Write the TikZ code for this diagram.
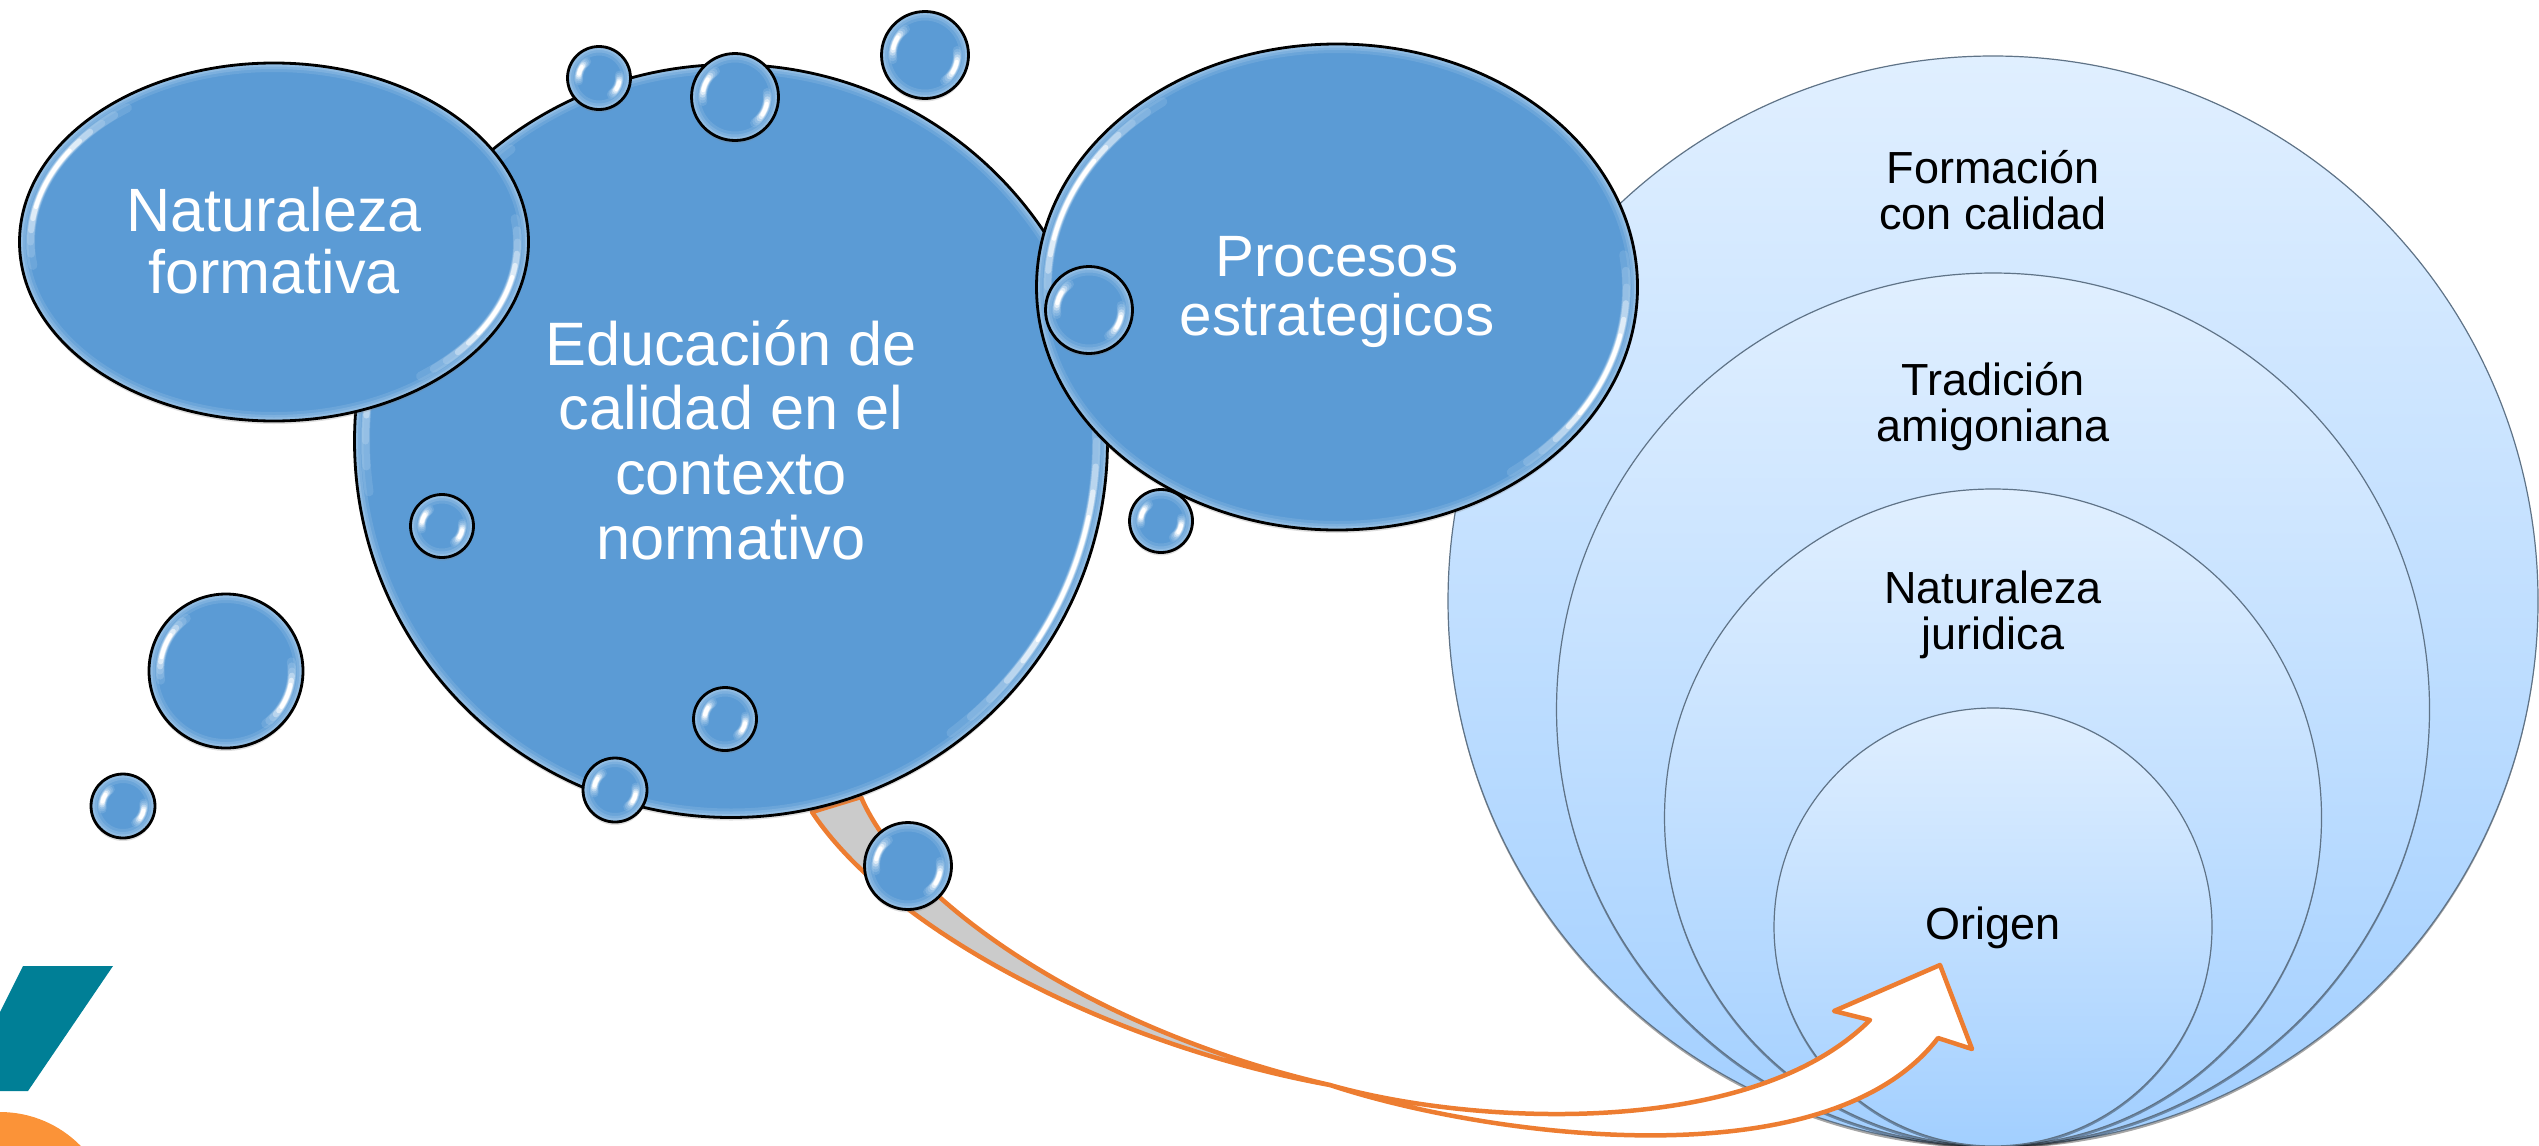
\documentclass[tikz,border=0pt]{standalone}
\usepackage{fontspec}
\setmainfont{Liberation Sans}
\usepackage{xcolor}
\usetikzlibrary{calc,shapes.geometric,positioning,shadows,fit}

\definecolor{blobblue}{HTML}{5B9BD5}
\definecolor{blobrim}{HTML}{B4D3EE}
\definecolor{ringtop}{HTML}{E0EFFF}
\definecolor{ringbot}{HTML}{A2CFFF}
\definecolor{ringline}{HTML}{5F7387}
\definecolor{arroworange}{HTML}{ED7D31}
\definecolor{arrowgray}{HTML}{CBCBCB}
\definecolor{logoteal}{HTML}{007F96}
\definecolor{logoorange}{HTML}{FB9338}

\tikzset{
    gloss/.style={path picture={
        \coordinate (ppc) at (path picture bounding box.center);
        \foreach \wd/\op in {1.8mm/.18,1.2mm/.25,.7mm/.35}{
            \draw[blobrim,line width=\wd,opacity=\op] let \p1=($(path picture bounding box.north east)-(ppc)$) in
                (ppc) ellipse [x radius=\x1,y radius=\y1];
        }
        \foreach \wd/\cut/\col/\op in {.9mm/2/blobrim/.2,.8mm/6/blobrim/.3,.7mm/10/blobrim/.4,.6mm/14/blobrim!60!white/.6,.5mm/18/blobrim!30!white/.8,.4mm/22/white/1}{
            \draw[\col,line width=\wd,opacity=\op,line cap=round] let \p1=($(path picture bounding box.north east)-(ppc)$) in
                ($(ppc)+({125+\cut}:\x1-1.1mm and \y1-1.1mm)$) arc [start angle=125+\cut,end angle=190-\cut,x radius=\x1-1.1mm,y radius=\y1-1.1mm];
            \draw[\col,line width=\wd,opacity=\op,line cap=round] let \p1=($(path picture bounding box.north east)-(ppc)$) in
                ($(ppc)+({-55+\cut}:\x1-1.1mm and \y1-1.1mm)$) arc [start angle=-55+\cut,end angle=10-\cut,x radius=\x1-1.1mm,y radius=\y1-1.1mm];
        }
    }},
    blob/.style={ellipse,draw=black,line width=.28mm,fill=blobblue,inner sep=0pt,outer sep=0pt,
        gloss,drop shadow={shadow xshift=0pt,shadow yshift=-.3mm,opacity=.25}},
    blobtext/.style={text=white,align=center,inner sep=0pt},
    ring/.style={circle,draw=ringline,line width=.12mm,top color=ringtop,bottom color=ringbot,inner sep=0pt,outer sep=0pt,
        drop shadow={shadow xshift=0pt,shadow yshift=-.25mm,opacity=.35,fill=black}},
    ringlabel/.style={align=center,text=black,inner sep=0pt,font=\fontsize{12.8}{13.1}\selectfont},
    arrowedge/.style={draw=arroworange,line width=.45mm,line join=round}
}

\begin{document}
\begin{tikzpicture}[x=0.1mm,y=-0.1mm]
        \useasboundingbox (0,0) rectangle (2539,1145);

        %logo
        \fill[logoteal] (23,966) -- (113,966) -- (28,1091) -- (0,1091) -- (0,1012) -- cycle;
        \begin{scope}
            \clip (0,0) rectangle (2539,1145);
            \fill[logoorange] (0,1225) circle (11.3mm);
        \end{scope}

        %rings
        \node[ring,minimum size=109mm] (ringa) at (1993,601) {};
        \node[ring,minimum size=87.3mm,anchor=south] (ringb) at (ringa.south) {};
        \node[ring,minimum size=65.7mm,anchor=south] (ringc) at (ringa.south) {};
        \node[ring,minimum size=43.8mm,anchor=south] (ringd) at (ringa.south) {};
        \node[ringlabel,below=9.35mm of ringa.north] (forma) {Formación\\con calidad};
        \node[ringlabel,below=8.84mm of ringb.north] (tradi) {Tradición\\amigoniana};
        \node[ringlabel,below=8.15mm of ringc.north] (juri) {Naturaleza\\juridica};
        \node[ringlabel,below=19.8mm of ringd.north] (orig) {Origen};

        %arrow
        \coordinate (twist) at (1330,1085);
        \coordinate (tailleft) at (812,812);
        \coordinate (tailright) at (861,797);
        \coordinate (neckleft) at (1870,1020);
        \coordinate (barbleft) at (1834,1011);
        \coordinate (tip) at (1940,965);
        \coordinate (barbright) at (1972,1049);
        \coordinate (neckright) at (1938,1038);
        \draw[arrowedge,fill=arrowgray] (tailleft) .. controls (890,930) and (1110,1045) .. (twist)
            .. controls (1090,1030) and (905,900) .. (tailright) -- cycle;
        \draw[arrowedge,fill=white] (twist) .. controls (1470,1125) and (1750,1140) .. (neckleft)
            -- (barbleft) -- (tip) -- (barbright) -- (neckright)
            .. controls (1825,1185) and (1480,1135) .. (twist) -- cycle;

        %big shapes
        \node[blob,minimum size=75.3mm] (edu) at (731,441) {};
        \node[blobtext,font=\fontsize{17.45}{18.4}\selectfont,yshift=.1mm] (edutext) at (edu) {Educación de\\calidad en el\\contexto\\normativo};
        \node[blob,minimum width=50.9mm,minimum height=35.8mm] (nat) at (274,242) {};
        \node[blobtext,font=\fontsize{17.4}{17.7}\selectfont,yshift=.1mm] (nattext) at (nat) {Naturaleza\\formativa};
        \node[blob,minimum width=60.1mm,minimum height=48.6mm] (pro) at (1337,287) {};
        \node[blobtext,font=\fontsize{16.6}{17}\selectfont,yshift=-.5mm] (protext) at (pro) {Procesos\\estrategicos};

        %bubbles
        \foreach \n/\x/\y/\d in {a/599/78/6.3,b/735/97/8.7,c/925/55/8.7,d/442/526/6.3,e/226/671/15.4,
            f/123/806/6.4,g/725/719/6.3,h/615/790/6.4,i/908/866/8.7,j/1089/310/8.7,k/1161/521/6.3}{
            \node[blob,minimum size=\d mm] (bub\n) at (\x,\y) {};
        }
\end{tikzpicture}
\end{document}
